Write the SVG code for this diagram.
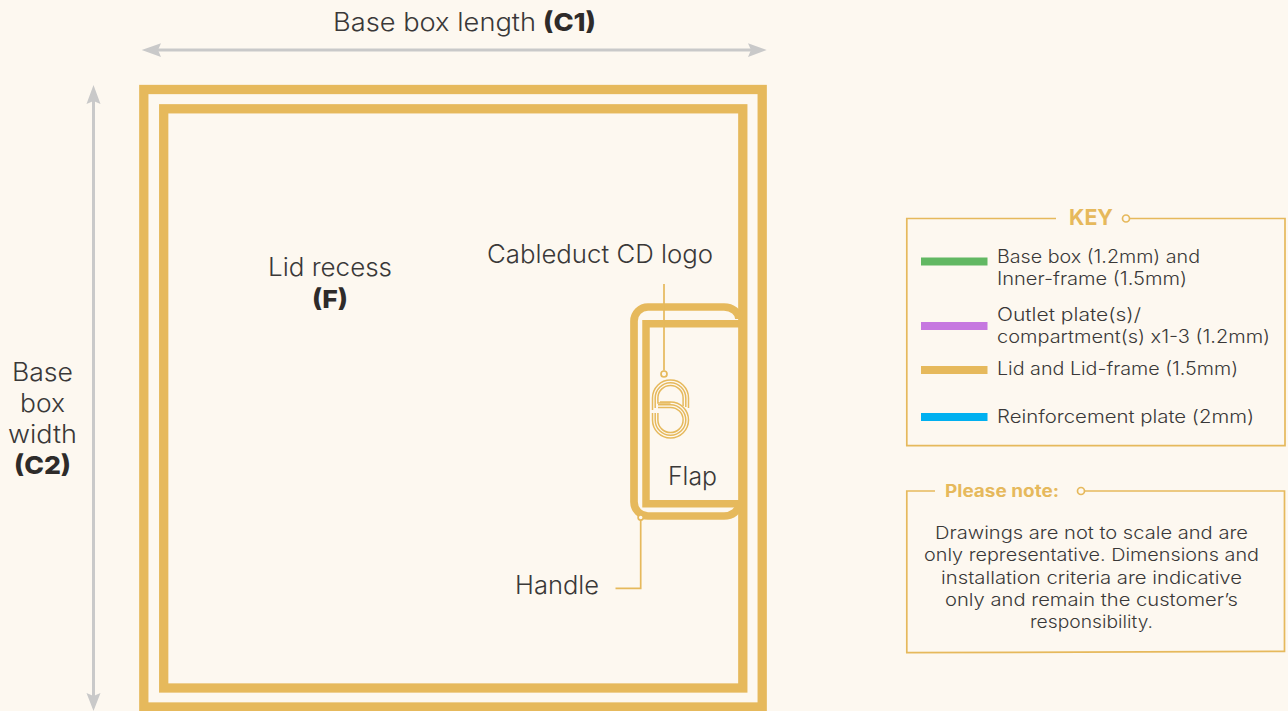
<svg xmlns="http://www.w3.org/2000/svg" width="1288" height="711" viewBox="0 0 1288 711">
<style>
text{font-family:"Inter","Noto Sans","Liberation Sans",sans-serif;fill:#3a3838;font-weight:300}
.b{font-weight:800;fill:#2e2b2a}
.l{font-size:25px}
.k{font-size:18px}
.n{font-size:17.5px}
.h{font-weight:700;fill:#e6b95c}
.f{fill:none;stroke:#e6b95c;stroke-linejoin:miter}
.t{fill:none;stroke:#e6b95c;stroke-width:1.7}
.c{fill:#fdf8f0;stroke:#e6b95c;stroke-width:1.7}
.d{fill:none;stroke:#c9c9c9;stroke-width:3}
.a{fill:#c9c9c9}
.g{fill:none;stroke:#e6b95c;stroke-width:1.5}
</style>
<rect width="1288" height="711" fill="#fdf8f0"/>
<g id="lid-frame">
<rect class="f" x="143.8" y="89.5" width="618.4" height="617.5" stroke-width="9.3"/>
</g>
<g id="lid-recess">
<rect class="f" x="163.7" y="108.8" width="579.1" height="579.2" stroke-width="9.3"/>
<text class="l" x="268" y="276" textLength="124" lengthAdjust="spacingAndGlyphs">Lid recess</text>
<text class="l b" x="312" y="308" textLength="36" lengthAdjust="spacingAndGlyphs">(F)</text>
</g>
<g id="handle">
<path class="f" stroke-width="7.7" d="M739 319A15 12 0 0 0 724 307H648A14 14 0 0 0 634 321V502A14 14 0 0 0 648 516H724A15 12 0 0 0 739 504"/>
<text class="l" x="515" y="594" textLength="84" lengthAdjust="spacingAndGlyphs">Handle</text>
</g>
<g id="flap">
<path class="f" stroke-width="7.5" d="M739 323.7H646V503.7H739"/>
<text class="l" x="668" y="484.500" textLength="49" lengthAdjust="spacingAndGlyphs">Flap</text>
</g>
<g id="logo">
<path class="g" d="M688.5 408V398A18 18 0 0 0 652.5 398V410"/>
<path class="g" d="M685.8 407V398A15.3 15.3 0 0 0 655.2 398V408"/>
<path class="g" d="M683.1 406V398A12.6 12.6 0 0 0 657.9 398V403H670.5"/>
<path class="g" d="M652.5 413V420A18 18 0 0 0 688.5 420A18 18 0 0 0 670.5 402H660"/>
<path class="g" d="M655.2 413V420A15.3 15.3 0 0 0 685.8 420A15.3 15.3 0 0 0 670.5 404.7H658"/>
<path class="g" d="M657.9 413V420A12.6 12.6 0 0 0 683.1 420A12.6 12.6 0 0 0 670.5 407.4H658"/>
<text class="l" x="487" y="263" textLength="226" lengthAdjust="spacingAndGlyphs">Cableduct CD logo</text>
</g>
<g id="dim-length">
<text class="l" x="333" y="31" textLength="203" lengthAdjust="spacingAndGlyphs">Base box length</text>
<text class="l b" x="543" y="31" textLength="53" lengthAdjust="spacingAndGlyphs">(C1)</text>
</g>
<g id="dim-width">
<text class="l" x="12" y="381" textLength="61" lengthAdjust="spacingAndGlyphs">Base</text>
<text class="l" x="20" y="412" textLength="45" lengthAdjust="spacingAndGlyphs">box</text>
<text class="l" x="8" y="443" textLength="69" lengthAdjust="spacingAndGlyphs">width</text>
<text class="l b" x="14" y="474" textLength="57" lengthAdjust="spacingAndGlyphs">(C2)</text>
</g>
<g id="key">
<path class="t" d="M1056 218.5H906.8V445.7H1285V218.500H1129.500"/>
<circle class="t" cx="1126" cy="218.5" r="3.5"/>
<text class="h" x="1069" y="225" font-size="22" textLength="44" lengthAdjust="spacingAndGlyphs">KEY</text>
<rect x="921" y="257.5" width="66.5" height="8" fill="#62b863"/>
<rect x="921" y="322" width="66.5" height="8" fill="#c678e0"/>
<rect x="921" y="366" width="66.5" height="8" fill="#e6b95c"/>
<rect x="921" y="413" width="66.5" height="8" fill="#00b0f0"/>
<text class="k" x="997" y="263" textLength="203" lengthAdjust="spacingAndGlyphs">Base box (1.2mm) and</text>
<text class="k" x="997" y="285" textLength="190" lengthAdjust="spacingAndGlyphs">Inner-frame (1.5mm)</text>
<text class="k" x="997" y="321" textLength="144" lengthAdjust="spacingAndGlyphs">Outlet plate(s)/</text>
<text class="k" x="997" y="343" textLength="273" lengthAdjust="spacingAndGlyphs">compartment(s) x1-3 (1.2mm)</text>
<text class="k" x="997" y="375" textLength="241" lengthAdjust="spacingAndGlyphs">Lid and Lid-frame (1.5mm)</text>
<text class="k" x="997" y="423" textLength="257" lengthAdjust="spacingAndGlyphs">Reinforcement plate (2mm)</text>
</g>
<g id="note">
<path class="t" d="M935 491H906.8V652.7L1284.5 651.3V491H1085"/>
<circle class="t" cx="1081" cy="491" r="3.5"/>
<text class="h" x="945" y="497" font-size="17" textLength="114" lengthAdjust="spacingAndGlyphs">Please note:</text>
<text class="n" x="935" y="539" textLength="313" lengthAdjust="spacingAndGlyphs">Drawings are not to scale and are</text>
<text class="n" x="924" y="561" textLength="335" lengthAdjust="spacingAndGlyphs">only representative. Dimensions and</text>
<text class="n" x="941" y="584" textLength="301" lengthAdjust="spacingAndGlyphs">installation criteria are indicative</text>
<text class="n" x="945" y="606" textLength="293" lengthAdjust="spacingAndGlyphs">only and remain the customer’s</text>
<text class="n" x="1030" y="628" textLength="123" lengthAdjust="spacingAndGlyphs">responsibility.</text>
</g>
<g id="connectors">
<path class="d" d="M155 50H752"/>
<path class="a" d="M141.7 50L161 43.3L158 50L161 57Z"/>
<path class="a" d="M766.7 50L748 43.3L751 50L748 57Z"/>
<path class="d" d="M93.5 100V698"/>
<path class="a" d="M93.5 85L100.500 104L93.500 101L86.500 104Z"/>
<path class="a" d="M93.5 711L100.500 693L93.500 696L86.500 693Z"/>
<path class="t" d="M664 284V370.500"/>
<circle class="c" cx="664" cy="374" r="3"/>
<path class="t" d="M640.7 520V588.300H615.500"/>
<circle class="c" cx="640.7" cy="517.500" r="2.600"/>
</g>
</svg>
